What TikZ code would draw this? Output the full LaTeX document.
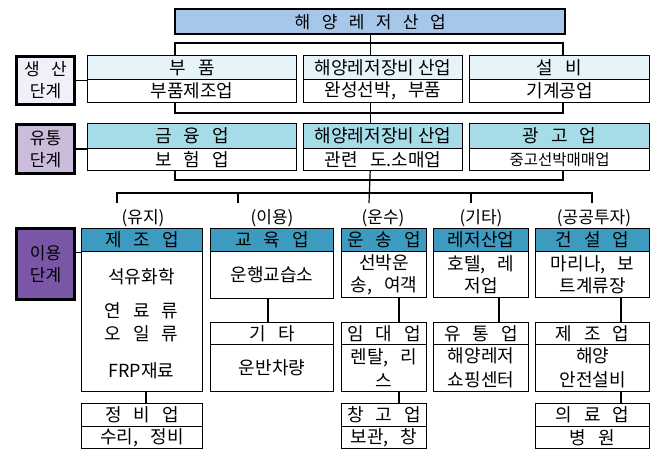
\documentclass[tikz,border=0pt]{standalone}
\usepackage{fontspec}
\setmainfont[WordSpace=3]{Noto Sans CJK KR}
\definecolor{ttl}{HTML}{A6C6EA}
\definecolor{hA}{HTML}{E6F4FA}
\definecolor{hB}{HTML}{A6DCE8}
\definecolor{hC}{HTML}{3D9BC0}
\definecolor{sA}{HTML}{F2EFF8}
\definecolor{sB}{HTML}{CBBCDB}
\definecolor{sC}{HTML}{7A56A6}
\newcommand\mybox[7]{\node[bx,#6,minimum width={#4-#2},minimum height={#5-#3}] (#1) at (#2,#3) {#7};}
\begin{document}
\begin{tikzpicture}[x=1pt,y=-1pt,
  every node/.style={inner sep=0pt,font=\fontsize{18}{22}\selectfont},
  bx/.style={draw,line width=1.2pt,anchor=north west,align=center},
  ttlbox/.style={fill=ttl,line width=2.4pt,font=\fontsize{17}{22}\selectfont},
  stg/.style={line width=3pt,font=\fontsize{17}{22}\selectfont},
  hdA/.style={fill=hA},
  hdB/.style={fill=hB},
  hdC/.style={fill=hC},
  bd/.style={fill=white},
  ln/.style={line width=1.2pt},
  lab/.style={font=\fontsize{17}{22}\selectfont}]
\useasboundingbox (0,0) rectangle (656,450);
\fill[white] (0,0) rectangle (656,450);
% title
\mybox{T}{174}{8}{564}{33}{ttlbox}{해 양 레 저 산 업}
% row 1
\mybox{S1}{15}{55}{73}{103}{stg,fill=sA}{생 산\\단계}
\mybox{A1h}{87}{55}{296}{79}{hdA}{부 품}
\mybox{A1b}{87}{79}{296}{102}{bd}{부품제조업}
\mybox{A2h}{303}{55}{462}{79}{hdA}{해양레저장비\hspace{4pt}산업}
\mybox{A2b}{303}{79}{462}{102}{bd}{완성선박, 부품}
\mybox{A3h}{469}{55}{649}{79}{hdA}{설 비}
\mybox{A3b}{469}{79}{649}{102}{bd}{기계공업}
% row 2
\mybox{S2}{15}{123}{73}{172}{stg,fill=sB}{유통\\단계}
\mybox{B1h}{87}{123}{296}{148}{hdB}{금 융 업}
\mybox{B1b}{87}{148}{296}{170}{bd}{보 험 업}
\mybox{B2h}{303}{123}{462}{148}{hdB}{해양레저장비\hspace{4pt}산업}
\mybox{B2b}{303}{148}{462}{170}{bd}{관련 도.소매업}
\mybox{B3h}{469}{123}{649}{148}{hdB}{광 고 업}
\mybox{B3b}{469}{148}{649}{170}{bd,font=\fontsize{15.5}{22}\selectfont}{중고선박매매업}
% row 3
\mybox{S3}{15}{227}{73}{298}{stg,fill=sC}{이용\\단계}
\mybox{C1h}{81}{228}{202}{251}{hdC}{제 조 업}
\mybox{C1b}{81}{251}{202}{391}{bd}{}
\node[align=center,font=\fontsize{18}{23}\selectfont] (C1t) at (141.5,324) {석유화학\\[11pt]연 료 류\\오 일 류\\[14pt]FRP재료};
\mybox{C2h}{210}{228}{333}{251}{hdC}{교 육 업}
\mybox{C2b}{210}{251}{333}{298}{bd}{운행교습소}
\mybox{C3h}{341}{228}{426}{251}{hdC}{운 송 업}
\mybox{C3b}{341}{251}{426}{297}{bd}{선박운\\송, 여객}
\mybox{C4h}{433}{228}{528}{251}{hdC}{레저산업}
\mybox{C4b}{433}{251}{528}{297}{bd}{호텔, 레\\저업}
\mybox{C5h}{535}{228}{649}{251}{hdC}{건 설 업}
\mybox{C5b}{535}{251}{649}{297}{bd}{마리나, 보\\트계류장}
% row 4
\mybox{D2h}{210}{322}{333}{344}{bd}{기 타}
\mybox{D2b}{210}{344}{333}{391}{bd}{운반차량}
\mybox{D3h}{341}{322}{426}{344}{bd}{임 대 업}
\mybox{D3b}{341}{344}{426}{391}{bd,font=\fontsize{18}{24}\selectfont}{렌탈, 리\\스}
\mybox{D4h}{433}{322}{528}{344}{bd}{유 통 업}
\mybox{D4b}{433}{344}{528}{391}{bd,font=\fontsize{18}{24}\selectfont}{해양레저\\쇼핑센터}
\mybox{D5h}{535}{322}{649}{344}{bd}{제 조 업}
\mybox{D5b}{535}{344}{649}{391}{bd,font=\fontsize{18}{24}\selectfont}{해양\\안전설비}
% row 5
\mybox{E1h}{81}{403}{202}{426}{bd}{정 비 업}
\mybox{E1b}{81}{426}{202}{448}{bd}{수리, 정비}
\mybox{E3h}{341}{403}{426}{426}{bd}{창 고 업}
\mybox{E3b}{341}{426}{426}{448}{bd}{보관, 창}
\mybox{E5h}{535}{403}{649}{426}{bd}{의 료 업}
\mybox{E5b}{535}{426}{649}{448}{bd}{병 원}
% category labels
\node[lab] (L1) at (143,218) {(유지)};
\node[lab] (L2) at (272,218) {(이용)};
\node[lab] (L3) at (383,218) {(운수)};
\node[lab] (L4) at (481,218) {(기타)};
\node[lab] (L5) at (594,218) {(공공투자)};
% coordinates
\coordinate (b1L) at (175,43); \coordinate (b1R) at (563,43);
\coordinate (b2L) at (175,113); \coordinate (b2R) at (563,113);
\coordinate (b3L) at (175,180); \coordinate (b3R) at (563,180);
\coordinate (b4L) at (117,193); \coordinate (b4R) at (592,193);
\coordinate (t1) at (117,203); \coordinate (t2) at (238,203);
\coordinate (t3) at (369,203); \coordinate (t4) at (471,203);
\coordinate (t5) at (592,203);
\coordinate (k1) at (146,0); \coordinate (k2) at (268,0);
\coordinate (k3) at (399,0); \coordinate (k4) at (499,0);
\coordinate (k5) at (621,0);
% connectors
\draw[ln] (T.south) -- (T.south |- A2h.north);
\draw[ln] (b1L |- A1h.north) -- (b1L) -- (b1R) -- (b1R |- A3h.north);
\draw[ln] (T.south |- A2b.south) -- (T.south |- B2h.north);
\draw[ln] (b2L |- A1b.south) -- (b2L) -- (b2R) -- (b2R |- A3b.south);
\draw[ln] (b3L |- B1b.south) -- (b3L) -- (b3R) -- (b3R |- B3b.south);
\draw[ln] (T.south |- B2b.south) -- (t3);
\draw[ln] (t1) -- (b4L) -- (b4R) -- (t5);
\draw[ln] (t2 |- b4L) -- (t2);
\draw[ln] (t4 |- b4L) -- (t4);
\draw[ln] (S1.east) -- (S1.east -| A1b.west);
\draw[ln] (S2.east) -- (S2.east -| B1b.west);
\draw[ln] (S3.east |- C1h.south) -- (C1h.south west);
\draw[ln] (k1 |- C1b.south) -- (k1 |- E1h.north);
\draw[ln] (k2 |- C2b.south) -- (k2 |- D2h.north);
\draw[ln] (k3 |- C3b.south) -- (k3 |- D3h.north);
\draw[ln] (k3 |- D3b.south) -- (k3 |- E3h.north);
\draw[ln] (k4 |- C4b.south) -- (k4 |- D4h.north);
\draw[ln] (k5 |- C5b.south) -- (k5 |- D5h.north);
\draw[ln] (k5 |- D5b.south) -- (k5 |- E5h.north);
\end{tikzpicture}
\end{document}
